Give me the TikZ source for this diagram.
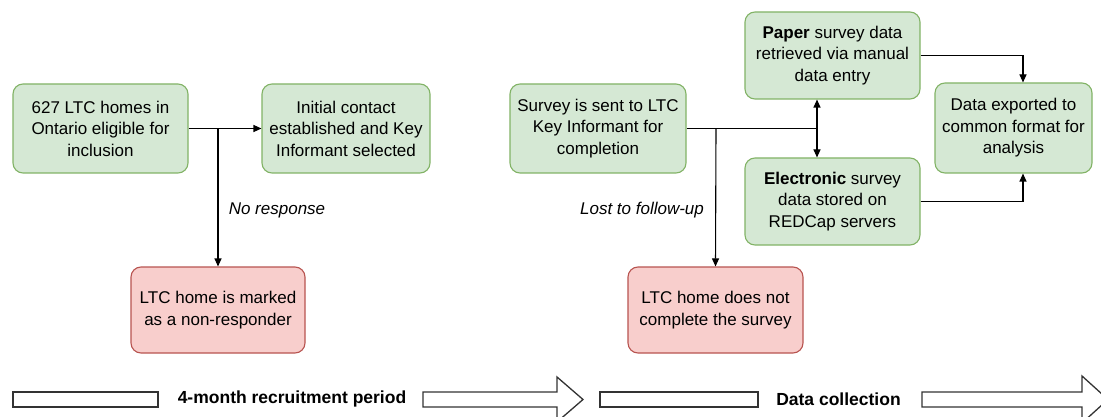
\documentclass[tikz,border=0pt]{standalone}
\usepackage{fontspec}
\setmainfont{Liberation Sans}
\usetikzlibrary{arrows.meta}
\definecolor{gfill}{HTML}{D5E8D4}
\definecolor{gdraw}{HTML}{82B366}
\definecolor{rfill}{HTML}{F8CECC}
\definecolor{rdraw}{HTML}{B85450}
\begin{document}
\begin{tikzpicture}[x=1pt,y=-1pt,
  box/.style={draw=gdraw,fill=gfill,rounded corners=10pt,line width=1.1pt,align=center,
    font=\fontsize{17}{21.5}\selectfont,inner sep=1pt},
  rbox/.style={box,draw=rdraw,fill=rfill},
  conn/.style={line width=1.1pt,-{Triangle[length=8pt,width=7pt]}},
  plain/.style={line width=1.1pt},
  lbl/.style={font=\fontsize{17}{20}\selectfont\itshape},
  blk/.style={draw=black!80,line width=1.3pt,fill=white,line join=miter},
  blbl/.style={font=\fontsize{17.5}{20}\selectfont\bfseries}]
\useasboundingbox (0,0) rectangle (1101,417);
\clip (0,0) rectangle (1101,417);
\fill[white] (0,0) rectangle (1101,417);

\node[box,minimum width=175pt,minimum height=89pt] (A) at (100.5,128.5) {627 LTC homes in\\Ontario eligible for\\inclusion};
\node[box,minimum width=168pt,minimum height=89pt] (B) at (346,128.5) {Initial contact\\established and Key\\Informant selected};
\node[box,minimum width=176pt,minimum height=89pt] (C) at (598,128.5) {Survey is sent to LTC\\Key Informant for\\completion};
\node[box,minimum width=175pt,minimum height=87pt] (D) at (832.5,55.5) {\textbf{Paper} survey data\\retrieved via manual\\data entry};
\node[box,minimum width=175pt,minimum height=87pt] (E) at (832.5,201.5) {\textbf{Electronic} survey\\data stored on\\REDCap servers};
\node[box,minimum width=157pt,minimum height=90pt] (F) at (1013.5,128) {Data exported to\\common format for\\analysis};
\node[rbox,minimum width=174pt,minimum height=86pt] (G) at (218,310) {LTC home is marked\\as a non-responder};
\node[rbox,minimum width=175pt,minimum height=86pt] (H) at (715.5,310) {LTC home does not\\complete the survey};

\coordinate (b1) at (218,128.5);
\coordinate (b2) at (716,128.5);
\coordinate (j) at (817,128.5);
\coordinate (k) at (1023,128);

\draw[conn] (A.east) -- (B.west);
\draw[conn] (b1) -- (G.north);
\draw[plain] (C.east) -- (j);
\draw[conn] (b2) -- (H.north);
\draw[conn] (j) -- (j |- D.south);
\draw[conn] (j) -- (j |- E.north);
\draw[conn] (D.east) -- (D.east -| k) -- (k |- F.north);
\draw[conn] (E.east) -- (E.east -| k) -- (k |- F.south);

\node[lbl] (l1) at (277,210) {No response};
\node[lbl] (l2) at (642,210) {Lost to follow-up};

% timeline block arrows
\draw[blk] (13,392) rectangle (158,407);
\draw[blk] (423,392) -- (557,392) -- (557,377) -- (583,399.5) -- (557,422) -- (557,407) -- (423,407) -- cycle;
\node[blbl] (t1) at (292,399) {4-month recruitment period};
\draw[blk] (600,392) rectangle (758,407);
\draw[blk] (922,392) -- (1082,392) -- (1082,376) -- (1108,399.5) -- (1082,423) -- (1082,407) -- (922,407) -- cycle;
\node[blbl] (t2) at (838.5,399) {Data collection};
\end{tikzpicture}
\end{document}
